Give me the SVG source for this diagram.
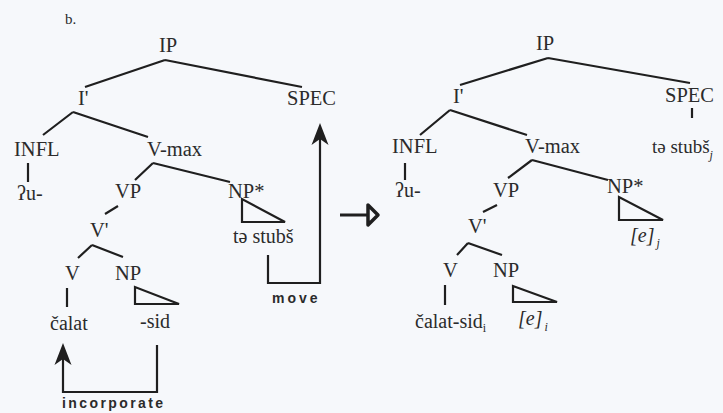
<svg xmlns="http://www.w3.org/2000/svg" width="723" height="413" viewBox="0 0 723 413">
<style>
text{font-family:'Liberation Serif',serif}
.t{font-size:20.5px;fill:#2b2b2b}
.w{font-size:20px;fill:#2b2b2b}
.i{font-style:italic}
.s{font-size:12px}
.b{font-family:'Liberation Sans',sans-serif;font-size:14px;font-weight:bold;fill:#2b2b2b}
.l{stroke:#1f1f1f;stroke-width:2.2;fill:none}
.tri{stroke:#1f1f1f;stroke-width:2.2;fill:none;stroke-linejoin:miter}
</style>
<defs>
<marker id="ah" viewBox="-24 -10 26 20" refX="-10" refY="0" markerWidth="26" markerHeight="20" markerUnits="userSpaceOnUse" orient="auto">
<path d="M0,0 L-22,-8.5 L-16,0 L-22,8.5 Z" fill="#1f1f1f"/>
</marker>
</defs>
<rect width="723" height="413" fill="#f6f8fb"/>
<text class="t" x="65" y="24" style="font-size:15px">b.</text>
<g id="connectors">
<path class="l" d="M165,60 L85,87 M165,60 L302,87"/>
<path class="l" d="M73,112 L43,135 M73,112 L148,137"/>
<path class="l" d="M28,163 V182"/>
<path class="l" d="M153,163 L135,180 M153,163 L230,182"/>
<path class="l" d="M118,206 L105,214"/>
<path class="l" d="M92,245 L78,258 M92,245 L123,257"/>
<path class="l" d="M67,288 V307"/>
<polygon class="tri" points="242,199 242,222 285,222"/>
<polygon class="tri" points="135,287 135,304 179,304"/>
<path class="l" d="M268,255 V283 H320 V133" marker-end="url(#ah)"/>
<path class="l" d="M157,345 V392 H63 V353" marker-end="url(#ah)"/>
<path d="M340,215 H368" stroke="#1f1f1f" stroke-width="3"/>
<polygon points="368,205 368,225 378,215" fill="none" stroke="#1f1f1f" stroke-width="3.5" stroke-linejoin="round"/>
<path class="l" d="M548,58 L460,85 M548,58 L690,83"/>
<path class="l" d="M692,108 V118"/>
<path class="l" d="M450,110 L420,135 M450,110 L527,135"/>
<path class="l" d="M405,163 V180"/>
<path class="l" d="M532,160 L508,178 M532,160 L608,180"/>
<path class="l" d="M497,205 L483,212"/>
<path class="l" d="M468,243 L457,255 M468,243 L502,255"/>
<path class="l" d="M445,285 V305"/>
<polygon class="tri" points="619,197 619,220 663,220"/>
<polygon class="tri" points="513,286 513,302 557,302"/>
</g>
<g id="left-IP"><text class="t" x="159" y="52">IP</text></g>
<g id="left-Ibar"><text class="t" x="78" y="105">I'</text></g>
<g id="left-SPEC"><text class="t" x="287" y="105">SPEC</text></g>
<g id="left-INFL"><text class="t" x="14" y="156">INFL</text></g>
<g id="left-Vmax"><text class="t" x="147" y="156">V-max</text></g>
<g id="left-u"><text class="w" x="17" y="200">ʔu-</text></g>
<g id="left-VP"><text class="t" x="115" y="198">VP</text></g>
<g id="left-NPstar"><text class="t" x="228" y="198">NP*</text></g>
<g id="left-tastubs"><text class="w" x="233" y="243">tə stubš</text></g>
<g id="left-Vbar"><text class="t" x="90" y="237">V'</text></g>
<g id="left-V"><text class="t" x="65" y="280">V</text></g>
<g id="left-NP"><text class="t" x="115" y="280">NP</text></g>
<g id="left-calat"><text class="w" x="50" y="330">čalat</text></g>
<g id="left-sid"><text class="w" x="140" y="328">-sid</text></g>
<g id="label-move"><text class="b" x="272" y="303" letter-spacing="3">move</text></g>
<g id="label-incorporate"><text class="b" x="62" y="408" letter-spacing="2.4">incorporate</text></g>
<g id="right-IP"><text class="t" x="536" y="50">IP</text></g>
<g id="right-Ibar"><text class="t" x="453" y="103">I'</text></g>
<g id="right-SPEC"><text class="t" x="665" y="102">SPEC</text></g>
<g id="right-tastubs"><text class="w" x="652" y="153" style="font-size:19px">tə stubš<tspan class="s i" dy="6">j</tspan></text></g>
<g id="right-INFL"><text class="t" x="392" y="153">INFL</text></g>
<g id="right-Vmax"><text class="t" x="525" y="153">V-max</text></g>
<g id="right-u"><text class="w" x="395" y="197">ʔu-</text></g>
<g id="right-VP"><text class="t" x="493" y="197">VP</text></g>
<g id="right-NPstar"><text class="t" x="607" y="193">NP*</text></g>
<g id="right-ej"><text class="w i" x="630" y="242">[e]<tspan class="s" dx="2" dy="5">j</tspan></text></g>
<g id="right-Vbar"><text class="t" x="468" y="233">V'</text></g>
<g id="right-V"><text class="t" x="443" y="277">V</text></g>
<g id="right-NP"><text class="t" x="493" y="277">NP</text></g>
<g id="right-calatsid"><text class="w" x="415" y="328">čalat-sid<tspan class="s" dy="4">i</tspan></text></g>
<g id="right-ei"><text class="w i" x="518" y="325">[e]<tspan class="s" dx="2" dy="6">i</tspan></text></g>
</svg>
